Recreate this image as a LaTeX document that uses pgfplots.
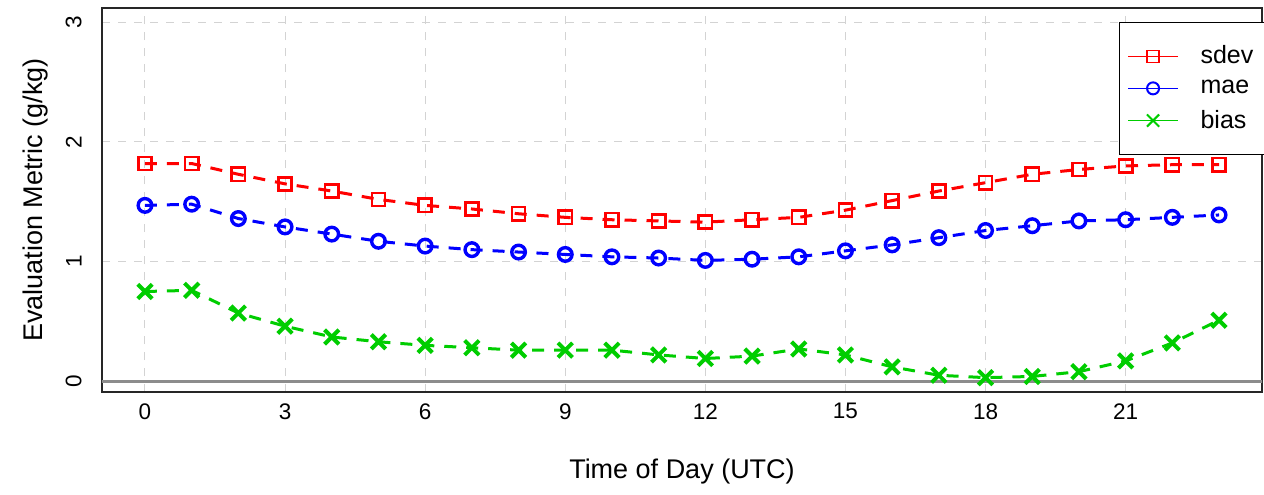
\documentclass[border=0pt]{standalone}
\usepackage{pgfplots}
\pgfplotsset{compat=1.18}
\usepackage{fontspec}
\setmainfont{Liberation Sans}
\definecolor{rgreen}{RGB}{0,205,0}
\definecolor{zgray}{RGB}{140,140,140}
\definecolor{ggray}{RGB}{211,211,211}
\usepackage{pgfplotstable}
\pgfplotstableread{
h sdev mae bias
0 1.82 1.47 0.75
1 1.82 1.48 0.76
2 1.73 1.36 0.57
3 1.65 1.29 0.46
4 1.59 1.23 0.37
5 1.52 1.17 0.33
6 1.47 1.13 0.30
7 1.44 1.10 0.28
8 1.40 1.08 0.26
9 1.37 1.06 0.26
10 1.35 1.04 0.26
11 1.34 1.03 0.22
12 1.33 1.01 0.19
13 1.35 1.02 0.21
14 1.37 1.04 0.27
15 1.43 1.09 0.22
16 1.51 1.14 0.12
17 1.59 1.20 0.05
18 1.66 1.26 0.03
19 1.73 1.30 0.04
20 1.77 1.34 0.08
21 1.80 1.35 0.17
22 1.81 1.37 0.32
23 1.81 1.39 0.51
}\datatable
\begin{document}
\begin{tikzpicture}
\useasboundingbox (0,0) rectangle (632pt,247pt);
\begin{axis}[
  at={(51pt,51pt)}, anchor=south west,
  scale only axis, width=580pt, height=192pt,
  xmin=-0.92, xmax=23.92, ymin=-0.09, ymax=3.12,
  xtick={0,3,...,21}, ytick={0,1,2,3},
  major tick length=0pt,
  /pgf/number format/assume math mode=true,
  tick label style={font=\fontsize{11.25}{13}\selectfont},
  xticklabel style={anchor=north, inner sep=0pt},
  xticklabel shift=5.5pt,
  yticklabel style={rotate=90, anchor=south, inner sep=0pt},
  yticklabel shift=10pt,
  grid=major,
  major grid style={ggray, dash pattern=on 4pt off 4pt, line width=0.5pt},
  axis line style={black!85, line width=0.75pt},
  xlabel={Time of Day (UTC)},
  ylabel={Evaluation Metric (g/kg)},
  label style={font=\fontsize{13.5}{16}\selectfont},
  xlabel style={at={(axis description cs:0.5,0)}, anchor=center, yshift=-40pt},
  ylabel style={at={(axis description cs:0,0.5)}, anchor=center, yshift=33pt},
  legend style={at={(rel axis cs:0.8767,0.9635)}, anchor=north west,
    draw=black, line width=0.6pt, font=\fontsize{12.5}{16}\selectfont,
    inner xsep=4pt, inner ysep=9.5pt, row sep=2.7pt,
    /tikz/every odd column/.append style={column sep=9pt}},
  legend cell align=left,
  legend image code/.code={\draw[mark repeat=2,mark phase=2,#1] plot coordinates {(0pt,0pt) (12.5pt,0pt) (25pt,0pt)};},
]
\addplot[zgray, line width=1.6pt, forget plot] coordinates {(-2,0) (26,0)};
\addplot[red, line width=1.5pt, dash pattern=on 6pt off 5pt, mark=square, mark size=3.3pt, mark options={solid, fill=white, line width=1.3pt}, forget plot] table[x=h, y=sdev] {\datatable};
\addplot[blue, line width=1.5pt, dash pattern=on 6pt off 5pt, mark=o, mark size=3.4pt, mark options={solid, fill=white, line width=1.7pt}, forget plot] table[x=h, y=mae] {\datatable};
\addplot[rgreen, line width=1.5pt, dash pattern=on 6pt off 5pt, mark=x, mark size=5.1pt, mark options={solid, line width=2pt}, forget plot] table[x=h, y=bias] {\datatable};
\addlegendimage{red, line width=0.5pt, mark=square, mark size=3pt, mark options={solid, line width=0.6pt}}
\addlegendentry{sdev}
\addlegendimage{blue, line width=0.5pt, mark=o, mark size=3pt, mark options={solid, line width=1pt}}
\addlegendentry{mae}
\addlegendimage{rgreen, line width=0.5pt, mark=x, mark size=4.3pt, mark options={solid, line width=1pt}}
\addlegendentry{bias}
\end{axis}
\end{tikzpicture}
\end{document}
